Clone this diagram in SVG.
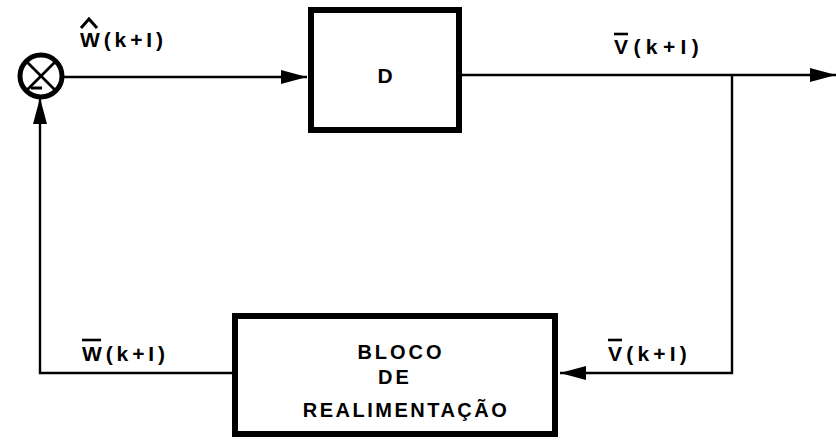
<svg xmlns="http://www.w3.org/2000/svg" width="836" height="440" viewBox="0 0 836 440">
<style>
.blk{fill:#fff;stroke:#000;stroke-width:6}
.ln{fill:none;stroke:#000;stroke-width:2.4}
.t{font-family:"Liberation Sans",Arial,sans-serif;font-weight:bold;font-size:21px;fill:#000}
.bt{font-family:"Liberation Sans",Arial,sans-serif;font-weight:bold;font-size:20px;fill:#000;text-anchor:middle}
.bar{stroke:#000;stroke-width:2.6}
</style>
<defs>
<marker id="ah" markerWidth="26" markerHeight="16" refX="26" refY="8" orient="auto" markerUnits="userSpaceOnUse">
<path d="M0,1 L26,8 L0,15 Z" fill="#000"/>
</marker>
</defs>
<rect width="836" height="440" fill="#fff"/>
<g id="connectors">
<line class="ln" x1="63" y1="77" x2="307" y2="77" marker-end="url(#ah)"/>
<line class="ln" x1="460" y1="75" x2="836" y2="75" marker-end="url(#ah)"/>
<polyline class="ln" points="732,75 732,373 560,373" marker-end="url(#ah)"/>
<polyline class="ln" points="232,373 40,373 40,98" marker-end="url(#ah)"/>
</g>
<g id="sum">
<circle cx="41" cy="76" r="21" fill="#fff" stroke="#000" stroke-width="5"/>
<line x1="27" y1="62" x2="55" y2="90" stroke="#000" stroke-width="2.6"/>
<line x1="55" y1="62" x2="27" y2="90" stroke="#000" stroke-width="2.6"/>
<line x1="31" y1="88" x2="42" y2="88" stroke="#000" stroke-width="3"/>
</g>
<g id="D">
<rect class="blk" x="311" y="10" width="148" height="120"/>
<text class="t" x="385" y="83" text-anchor="middle" font-size="24">D</text>
</g>
<g id="feedback">
<rect class="blk" x="235" y="316" width="320" height="118"/>
<text class="bt" x="401" y="359" letter-spacing="3">BLOCO</text>
<text class="bt" x="395" y="384" letter-spacing="3">DE</text>
<text class="bt" x="406" y="417" letter-spacing="2.5">REALIMENTAÇÃO</text>
</g>
<g id="labels">
<text class="t" x="80" y="47" letter-spacing="3.9">W(k+I)</text>
<path d="M81,28 L89,19 L97,28" fill="none" stroke="#000" stroke-width="3"/>
<text class="t" x="614" y="54" letter-spacing="5.4">V(k+I)</text>
<line class="bar" x1="614" y1="34" x2="628" y2="34"/>
<text class="t" x="82" y="361" letter-spacing="3.9">W(k+I)</text>
<line class="bar" x1="82" y1="340" x2="101" y2="340"/>
<text class="t" x="608" y="361" letter-spacing="4.2">V(k+I)</text>
<line class="bar" x1="608" y1="340" x2="622" y2="340"/>
</g>
</svg>
